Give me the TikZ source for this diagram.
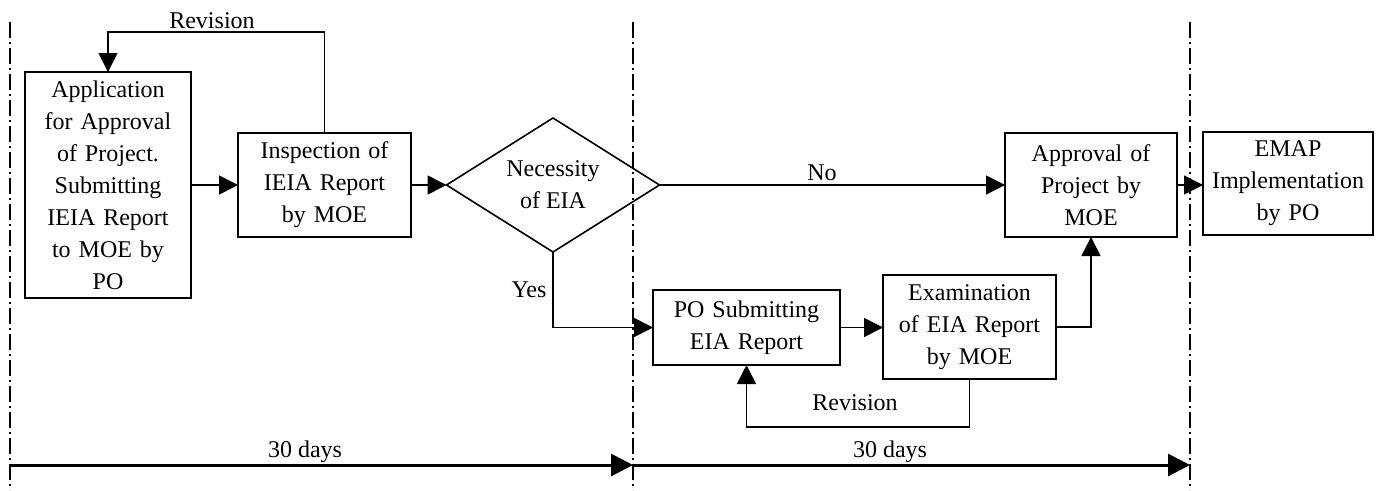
\documentclass[tikz,border=0pt]{standalone}
\usepackage{fontspec}
\setmainfont{Liberation Serif}
\usetikzlibrary{shapes.geometric,arrows.meta}
\begin{document}
\begin{tikzpicture}[x=1pt,y=-1pt,
  font=\fontsize{24}{32}\selectfont,
  every node/.style={inner sep=0pt, outer sep=0pt},
  box/.style={draw, line width=1.6pt, align=center},
  decision/.style={draw, line width=1.6pt, diamond, aspect=1.59, minimum width=213pt, minimum height=134pt, align=center},
  flow/.style={line width=1.6pt, -{Triangle[length=19pt,width=19pt]}},
  timeline/.style={line width=3pt, -{Triangle[length=22pt,width=22pt]}},
  divider/.style={line width=1.6pt, dash pattern=on 16pt off 4pt on 2pt off 4pt},
  lbl/.style={anchor=base}
]
\useasboundingbox (0,0) rectangle (1378,490);

% dividers
\coordinate (v1t) at (10,22);   \coordinate (v1b) at (10,490);
\coordinate (v2t) at (633,22);  \coordinate (v2b) at (633,490);
\coordinate (v3t) at (1190,22); \coordinate (v3b) at (1190,490);
\draw[divider] (v1t) -- (v1b);
\draw[divider] (v2t) -- (v2b);
\draw[divider] (v3t) -- (v3b);

% nodes
\node[box, minimum width=166pt, minimum height=226pt, text width=160pt] (A) at (108,185)
  {Application\\for Approval\\of Project.\\Submitting\\IEIA Report\\to MOE by\\PO};
\node[box, minimum width=173pt, minimum height=104pt, text width=165pt] (B) at (324.5,185)
  {Inspection of\\IEIA Report\\by MOE};
\node[decision] (D) at (553,185) {Necessity\\of EIA};
\node[box, minimum width=187pt, minimum height=75pt, text width=180pt] (P) at (746.5,327.5)
  {PO Submitting\\EIA Report};
\node[box, minimum width=173pt, minimum height=104pt, text width=167pt] (E) at (969.5,327)
  {Examination\\of EIA Report\\by MOE};
\node[box, minimum width=172pt, minimum height=104pt, text width=165pt] (R) at (1091,185)
  {Approval of\\Project by\\MOE};
\node[box, minimum width=170pt, minimum height=103pt, text width=165pt] (M) at (1288,183.5)
  {EMAP\\Implementation\\by PO};

% connectors
\draw[flow] (A.east) -- (B.west);
\draw[flow] (B.east) -- (D.west);
\draw[flow] (D.east) -- (D.east -| R.west);
\draw[flow] (D.south) |- (P.west);
\draw[flow] (P.east) -- (P.east -| E.west);
\draw[flow] (E.east) -| (R.south);
\draw[flow] (R.east) -- (R.east -| M.west);
\coordinate (rt) at (324.5,32);
\draw[flow] (B.north) -- (rt) -| (A.north);
\coordinate (rb) at (969.5,427);
\draw[flow] (E.south) -- (rb) -| (P.south);

% labels
\node[lbl] (lrev1) at (212,28) {Revision};
\node[lbl] (lno) at (822,180) {No};
\node[lbl] (lyes) at (529,297) {Yes};
\node[lbl] (lrev2) at (855,410) {Revision};

% timeline
\coordinate (t0) at (10,465);
\coordinate (t1) at (633,465);
\coordinate (t2) at (1190,465);
\draw[timeline] (t0) -- (t1);
\draw[timeline] (t1) -- (t2);
\node[lbl] (d1) at (305,457) {30 days};
\node[lbl] (d2) at (890,457) {30 days};
\end{tikzpicture}
\end{document}
